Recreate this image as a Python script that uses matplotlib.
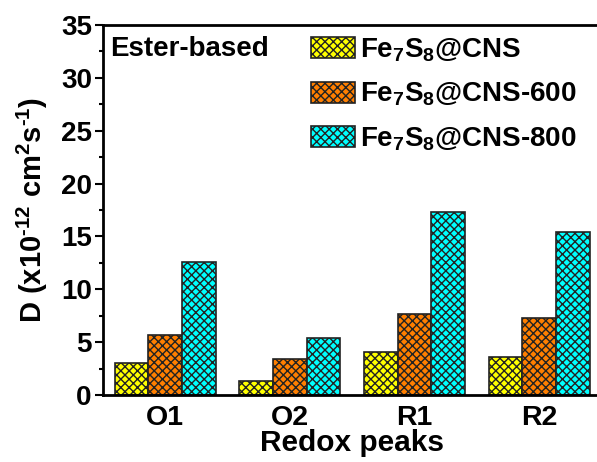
import numpy as np
import matplotlib.pyplot as plt

plt.rcParams['font.family'] = 'Liberation Sans'
plt.rcParams['font.weight'] = 'bold'
plt.rcParams['axes.labelweight'] = 'bold'
plt.rcParams['mathtext.fontset'] = 'custom'
plt.rcParams['mathtext.rm'] = 'Liberation Sans:bold'
plt.rcParams['mathtext.bf'] = 'Liberation Sans:bold'
plt.rcParams['mathtext.it'] = 'Liberation Sans:bold'
plt.rcParams['mathtext.default'] = 'rm'
plt.rcParams['hatch.linewidth'] = 1.0

peaks = ['O1', 'O2', 'R1', 'R2']
cns = [3.0, 1.3, 4.1, 3.6]
cns600 = [5.7, 3.4, 7.7, 7.3]
cns800 = [12.6, 5.4, 17.3, 15.4]

series = [
    (cns, '#FFFF00', r'Fe$_7$S$_8$@CNS'),
    (cns600, '#FF7F00', r'Fe$_7$S$_8$@CNS-600'),
    (cns800, '#00FFFF', r'Fe$_7$S$_8$@CNS-800'),
]

fig = plt.figure(figsize=(5.97, 4.62), dpi=100)
ax = fig.add_axes([0.1725, 0.145, 0.835, 0.801])

x = np.arange(len(peaks))
w = 0.27
for i, (vals, color, label) in enumerate(series):
    ax.bar(x + (i - 1) * w, vals, w, color=color, edgecolor='#222222',
           hatch='xxxx', linewidth=1.2, label=label)

ax.set_xlim(-0.5, 3.5)
ax.set_ylim(0, 35)
ax.set_yticks(np.arange(0, 36, 5))
ax.set_yticks(np.arange(2.5, 35, 5), minor=True)
ax.set_xticks(x)
ax.set_xticklabels(peaks)
ax.tick_params(axis='y', which='major', length=6, width=1.5, labelsize=20, pad=2)
ax.tick_params(axis='y', which='minor', length=3, width=1.5)
ax.tick_params(axis='x', length=0, labelsize=20.5, pad=7)

for s in ['left', 'bottom', 'top']:
    ax.spines[s].set_linewidth(2)
ax.spines['right'].set_visible(False)

ax.set_xlabel('Redox peaks', fontsize=21.5, labelpad=-1)
# hyphen-style minus in the exponents
ax.set_ylabel('D (x10$^{\u201012}$ cm$^2$s$^{\u20101}$)', fontsize=21, labelpad=8)

ax.text(0.015, 0.935, 'Ester-based', transform=ax.transAxes, fontsize=20,
        va='center', ha='left')

ax.legend(loc='upper left', bbox_to_anchor=(0.395, 1.0), frameon=False,
          fontsize=20, handlelength=1.6, handleheight=0.8,
          labelspacing=0.62, handletextpad=0.15, borderaxespad=0)

fig.savefig('out.png', dpi=100)
